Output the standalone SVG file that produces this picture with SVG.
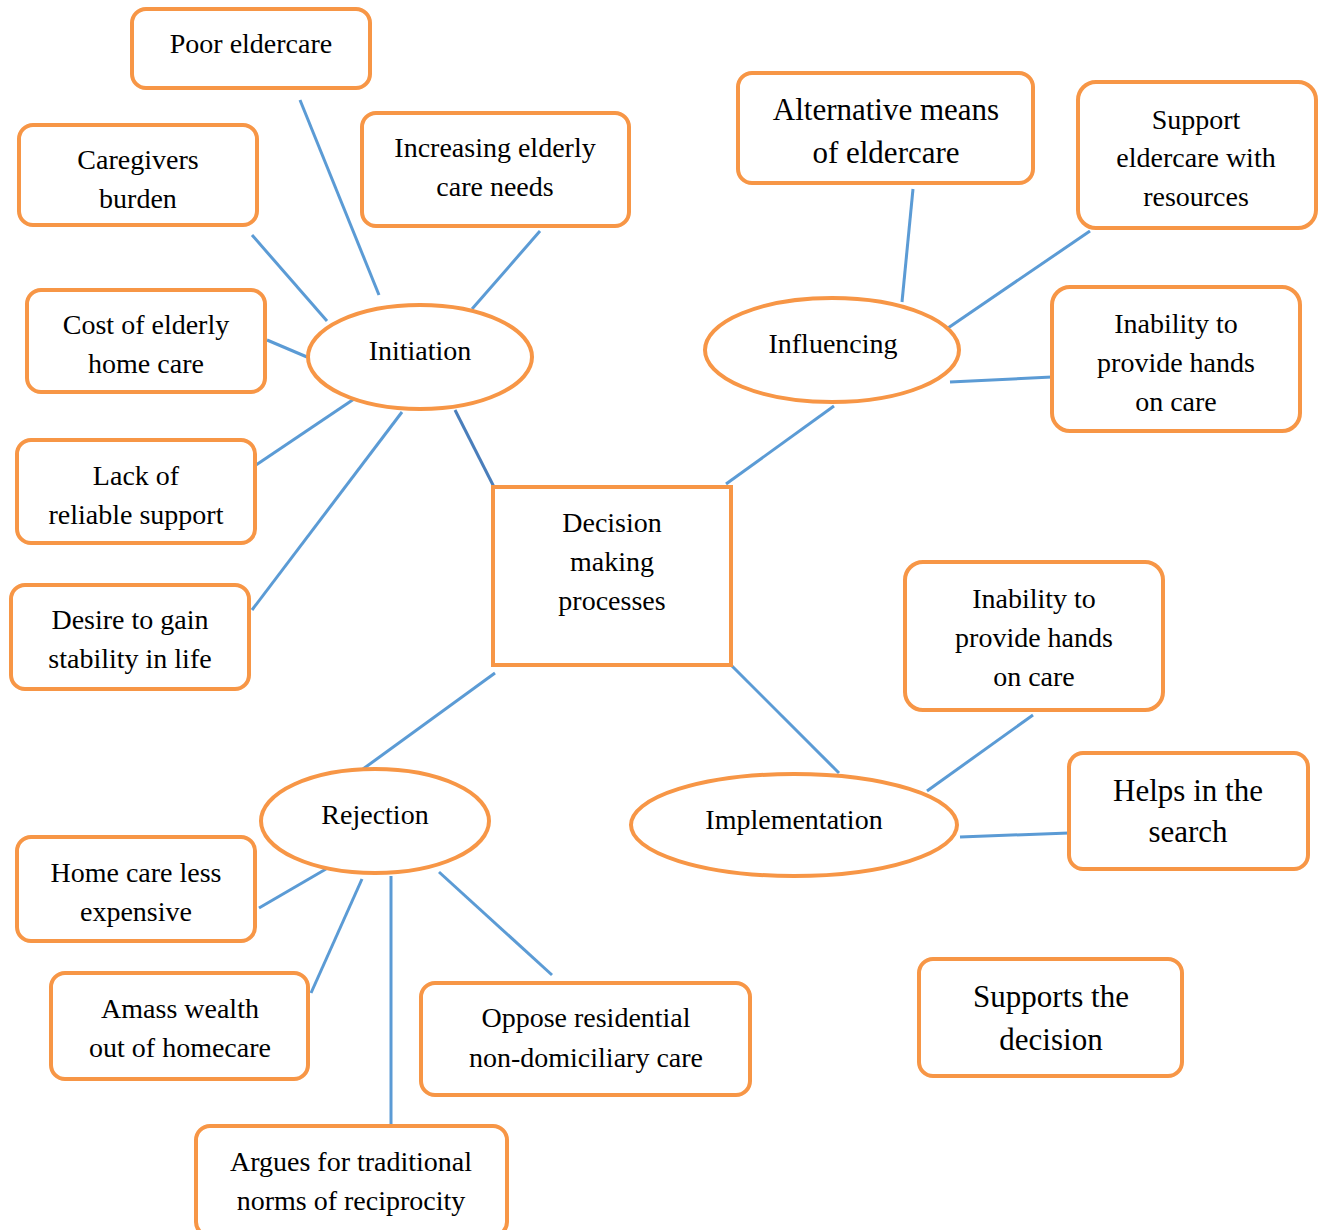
<svg xmlns="http://www.w3.org/2000/svg" width="1321" height="1230" viewBox="0 0 1321 1230" font-family="Liberation Serif, Times New Roman, DejaVu Serif, serif">
<style>
.box{fill:#fff;stroke:#F79646;stroke-width:4}
.ell{fill:#fff;stroke:#F79646;stroke-width:4}
.t{font-size:28px;fill:#000;text-anchor:middle}
.tl{font-size:31px}
.c line{stroke:#5B9BD5;stroke-width:3}
</style>
<rect width="1321" height="1230" fill="#fff"/>
<g class="c" id="connectors">
<line x1="300" y1="100" x2="379" y2="295"/>
<line x1="252" y1="235" x2="327" y2="321"/>
<line x1="540" y1="231" x2="472" y2="309"/>
<line x1="267" y1="340" x2="307" y2="357"/>
<line x1="256" y1="465" x2="354" y2="399"/>
<line x1="252" y1="610" x2="402" y2="412"/>
<line x1="455" y1="410" x2="494" y2="487" style="stroke:#4A7EBB"/>
<line x1="726" y1="484" x2="834" y2="406"/>
<line x1="913" y1="189" x2="902" y2="302"/>
<line x1="1090" y1="231" x2="948" y2="328"/>
<line x1="1052" y1="377" x2="950" y2="382"/>
<line x1="731" y1="665" x2="839" y2="773"/>
<line x1="1033" y1="715" x2="927" y2="791"/>
<line x1="1069" y1="833" x2="960" y2="837"/>
<line x1="495" y1="673" x2="363" y2="769"/>
<line x1="259" y1="908" x2="326" y2="869"/>
<line x1="311" y1="993" x2="362" y2="879"/>
<line x1="391" y1="876" x2="391" y2="1125"/>
<line x1="439" y1="872" x2="552" y2="975"/>
</g>
<g id="poor"><rect class="box" x="132" y="9" width="238" height="79" rx="14"/><text class="t" x="251" y="53">Poor eldercare</text></g>
<g id="caregivers"><rect class="box" x="19" y="125" width="238" height="100" rx="14"/><text class="t" x="138" y="169">Caregivers</text><text class="t" x="138" y="208">burden</text></g>
<g id="increasing"><rect class="box" x="362" y="113" width="267" height="113" rx="14"/><text class="t" x="495" y="157">Increasing elderly</text><text class="t" x="495" y="196">care needs</text></g>
<g id="cost"><rect class="box" x="27" y="290" width="238" height="102" rx="14"/><text class="t" x="146" y="334">Cost of elderly</text><text class="t" x="146" y="373">home care</text></g>
<g id="lack"><rect class="box" x="17" y="440" width="238" height="103" rx="14"/><text class="t" x="136" y="485">Lack of</text><text class="t" x="136" y="524">reliable support</text></g>
<g id="desire"><rect class="box" x="11" y="585" width="238" height="104" rx="14"/><text class="t" x="130" y="629">Desire to gain</text><text class="t" x="130" y="668">stability in life</text></g>
<g id="initiation"><ellipse class="ell" cx="420" cy="357" rx="112" ry="52"/><text class="t" x="420" y="360">Initiation</text></g>
<g id="influencing"><ellipse class="ell" cx="832" cy="350" rx="127" ry="52"/><text class="t" x="833" y="353">Influencing</text></g>
<g id="decision"><rect class="box" x="493" y="487" width="238" height="178"/><text class="t" x="612" y="532">Decision</text><text class="t" x="612" y="571">making</text><text class="t" x="612" y="610">processes</text></g>
<g id="alternative"><rect class="box" x="738" y="73" width="295" height="110" rx="14"/><text class="t tl" x="886" y="120">Alternative means</text><text class="t tl" x="886" y="163">of eldercare</text></g>
<g id="support"><rect class="box" x="1078" y="82" width="238" height="146" rx="18"/><text class="t" x="1196" y="129">Support</text><text class="t" x="1196" y="167">eldercare with</text><text class="t" x="1196" y="206">resources</text></g>
<g id="inability1"><rect class="box" x="1052" y="287" width="248" height="144" rx="18"/><text class="t" x="1176" y="333">Inability to</text><text class="t" x="1176" y="372">provide hands</text><text class="t" x="1176" y="411">on care</text></g>
<g id="inability2"><rect class="box" x="905" y="562" width="258" height="148" rx="18"/><text class="t" x="1034" y="608">Inability to</text><text class="t" x="1034" y="647">provide hands</text><text class="t" x="1034" y="686">on care</text></g>
<g id="helps"><rect class="box" x="1069" y="753" width="239" height="116" rx="14"/><text class="t tl" x="1188" y="801">Helps in the</text><text class="t tl" x="1188" y="842">search</text></g>
<g id="supports"><rect class="box" x="919" y="959" width="263" height="117" rx="14"/><text class="t tl" x="1051" y="1007">Supports the</text><text class="t tl" x="1051" y="1050">decision</text></g>
<g id="implementation"><ellipse class="ell" cx="794" cy="825" rx="163" ry="51"/><text class="t" x="794" y="829">Implementation</text></g>
<g id="rejection"><ellipse class="ell" cx="375" cy="821" rx="114" ry="52"/><text class="t" x="375" y="824">Rejection</text></g>
<g id="homecare"><rect class="box" x="17" y="837" width="238" height="104" rx="14"/><text class="t" x="136" y="882">Home care less</text><text class="t" x="136" y="921">expensive</text></g>
<g id="amass"><rect class="box" x="51" y="973" width="257" height="106" rx="14"/><text class="t" x="180" y="1018">Amass wealth</text><text class="t" x="180" y="1057">out of homecare</text></g>
<g id="oppose"><rect class="box" x="421" y="983" width="329" height="112" rx="14"/><text class="t" x="586" y="1027">Oppose residential</text><text class="t" x="586" y="1067">non-domiciliary care</text></g>
<g id="argues"><rect class="box" x="196" y="1126" width="311" height="110" rx="14"/><text class="t" x="351" y="1171">Argues for traditional</text><text class="t" x="351" y="1210">norms of reciprocity</text></g>
</svg>
